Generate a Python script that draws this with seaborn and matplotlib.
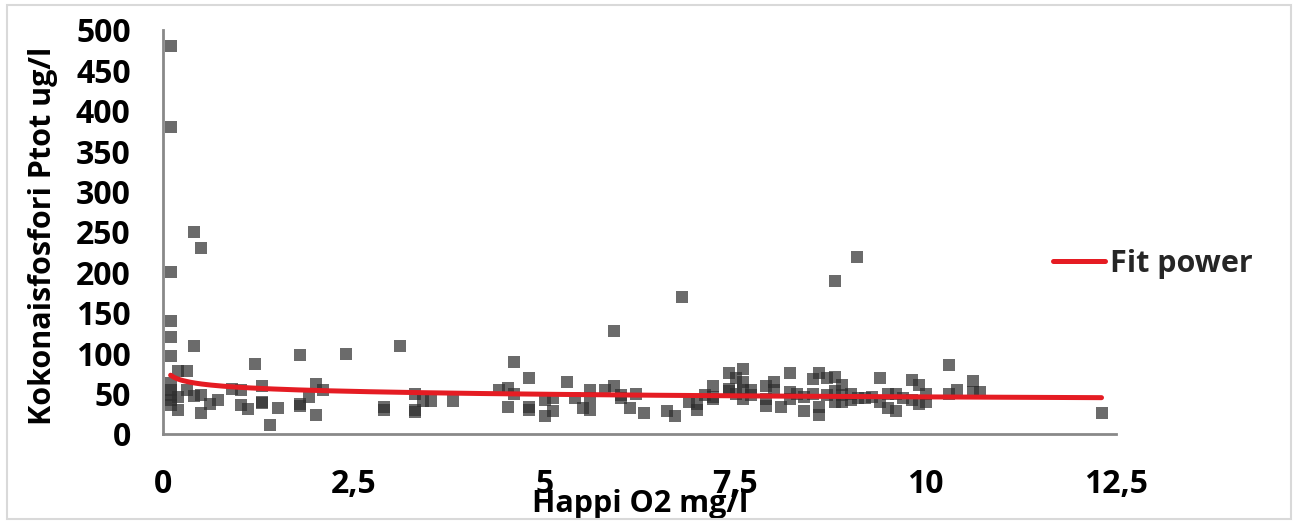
import numpy as np
import pandas as pd
import matplotlib
matplotlib.use("Agg")
import matplotlib.pyplot as plt
from matplotlib.patches import Rectangle
import seaborn as sns

# ---- data ----
oxygen = [
    0.1, 0.1, 0.1, 0.1, 0.1, 0.1, 0.1, 0.1, 0.1, 0.1, 0.1,
    0.2, 0.2, 0.2,
    0.31, 0.31,
    0.41, 0.41, 0.41,
    0.5, 0.5, 0.5,
    0.61, 0.72, 0.91,
    1.02, 1.02, 1.11, 1.21,
    1.30, 1.30, 1.30, 1.41, 1.51,
    1.80, 1.80, 1.80, 1.91, 2.01, 2.01, 2.10, 2.40,
    2.90, 2.90, 3.11, 3.31, 3.31, 3.31, 3.41, 3.52, 3.81,
    4.41, 4.52, 4.52, 4.61, 4.61, 4.80, 4.80, 4.80,
    5.01, 5.01, 5.11, 5.11, 5.30, 5.41, 5.51, 5.60, 5.60, 5.60,
    5.80, 5.91, 5.91, 6.01, 6.01, 6.12, 6.21, 6.31,
    6.61, 6.71, 6.81, 6.90, 7.01, 7.01, 7.11,
    7.21, 7.21, 7.21, 7.42, 7.42, 7.42, 7.51, 7.51,
    7.61, 7.61, 7.61, 7.61, 7.71, 7.71,
    7.91, 7.91, 7.91, 8.02, 8.02, 8.11,
    8.22, 8.22, 8.22, 8.31, 8.41, 8.41, 8.52, 8.52,
    8.61, 8.61, 8.61, 8.71, 8.71,
    8.81, 8.81, 8.81, 8.81, 8.91, 8.91, 8.91, 9.02, 9.02,
    9.10, 9.11, 9.21, 9.30, 9.41, 9.41, 9.51, 9.51, 9.61, 9.61,
    9.71, 9.82, 9.82, 9.91, 9.91, 10.01, 10.01,
    10.31, 10.31, 10.41, 10.62, 10.62, 10.71, 12.31,
]
phosphorus = [
    480, 380, 200, 140, 120, 97, 63, 55, 48, 42, 36,
    78, 46, 30,
    78, 54,
    250, 109, 47,
    230, 48, 26,
    37, 42, 56,
    55, 36, 31, 87,
    60, 38, 40, 11, 32,
    98, 35, 37, 46, 62, 24, 55, 99,
    30, 33, 109, 50, 27, 30, 41, 41, 41,
    55, 57, 34, 89, 49, 69, 30, 33,
    42, 22, 45, 29, 64, 45, 32, 55, 45, 30,
    55, 128, 60, 45, 48, 32, 49, 26,
    28, 22, 170, 40, 37, 30, 48,
    60, 43, 46, 75, 53, 56, 69, 49,
    81, 64, 55, 43, 55, 48,
    60, 43, 35, 64, 55, 33,
    75, 52, 43, 49, 46, 28, 68, 49,
    75, 34, 23, 69, 48,
    189, 70, 53, 40, 61, 48, 40, 49, 42,
    219, 44, 44, 46, 69, 40, 50, 32, 50, 28,
    44, 67, 42, 61, 37, 49, 40,
    86, 49, 55, 66, 52, 52, 26,
]
fit_a = 57.8      # power fit  y = a * x^b
fit_b = -0.10
fit_xmin, fit_xmax = 0.1, 12.31

x_ticks = [0, 2.5, 5, 7.5, 10, 12.5]
x_tick_labels = ["0", "2,5", "5", "7,5", "10", "12,5"]
y_ticks = [0, 50, 100, 150, 200, 250, 300, 350, 400, 450, 500]

x_label = "Happi O2 mg/l"
y_label = "Kokonaisfosfori Ptot ug/l"
legend_label = "Fit power"

# ---- styling ----
sns.set_theme(style="white")
plt.rcParams["font.family"] = ["Open Sans", "DejaVu Sans"]
plt.rcParams["font.weight"] = "bold"
FS = 22
TFS = 23

W, H = 1293, 524
fig = plt.figure(figsize=(W / 100, H / 100), dpi=100)
fig.patch.set_facecolor("white")
fig.patches.append(Rectangle((7 / W, 5 / H), (1291 - 7) / W, (519 - 5) / H,
                             transform=fig.transFigure, fill=False,
                             edgecolor="#d9d9d9", linewidth=1.5))

ax = fig.add_axes([163 / W, (H - 434) / H, (1116 - 163) / W, (434 - 30) / H])

df = pd.DataFrame({"x": oxygen, "y": phosphorus})
sns.scatterplot(data=df, x="x", y="y", ax=ax, marker="s", s=78,
                color="#2e2e2e", alpha=0.71, linewidth=0, legend=False,
                zorder=2)

fx = np.linspace(fit_xmin, fit_xmax, 300)
fit_df = pd.DataFrame({"x": fx, "y": fit_a * fx ** fit_b})
sns.lineplot(data=fit_df, x="x", y="y", ax=ax, color="#e51c23",
             linewidth=3.6, label=legend_label, zorder=3,
             solid_capstyle="round")

ax.set_xlim(0, 12.5)
ax.set_ylim(0, 500)
ax.set_xticks(x_ticks)
ax.set_xticklabels(x_tick_labels)
ax.set_yticks(y_ticks)

for side in ["top", "right"]:
    ax.spines[side].set_visible(False)
for side in ["left", "bottom"]:
    ax.spines[side].set_color("#898989")
    ax.spines[side].set_linewidth(2)

ax.tick_params(axis="both", which="major", direction="out", color="#898989",
               width=1.6, length=8.3, labelsize=TFS, labelcolor="black")
ax.tick_params(axis="y", pad=15)
ax.tick_params(axis="x", pad=16)
for lab in ax.get_xticklabels() + ax.get_yticklabels():
    lab.set_fontweight("bold")

ax.set_xlabel(x_label, fontsize=FS, fontweight="bold", color="black")
ax.set_ylabel(y_label, fontsize=FS, fontweight="bold", color="black")
ax.xaxis.set_label_coords((640 - 163) / 953, (434 - 489) / 404)
ax.yaxis.set_label_coords((58 - 163) / 953, (434 - 236) / 404)

leg = ax.legend(loc="center left", bbox_to_anchor=((1053 - 163) / 953, (434 - 264) / 404),
                frameon=False, fontsize=FS, handlelength=1.7, handletextpad=0.15,
                borderpad=0, borderaxespad=0)
for t in leg.get_texts():
    t.set_fontweight("bold")
leg.set_clip_on(False)

fig.savefig("out.png", dpi=100)
